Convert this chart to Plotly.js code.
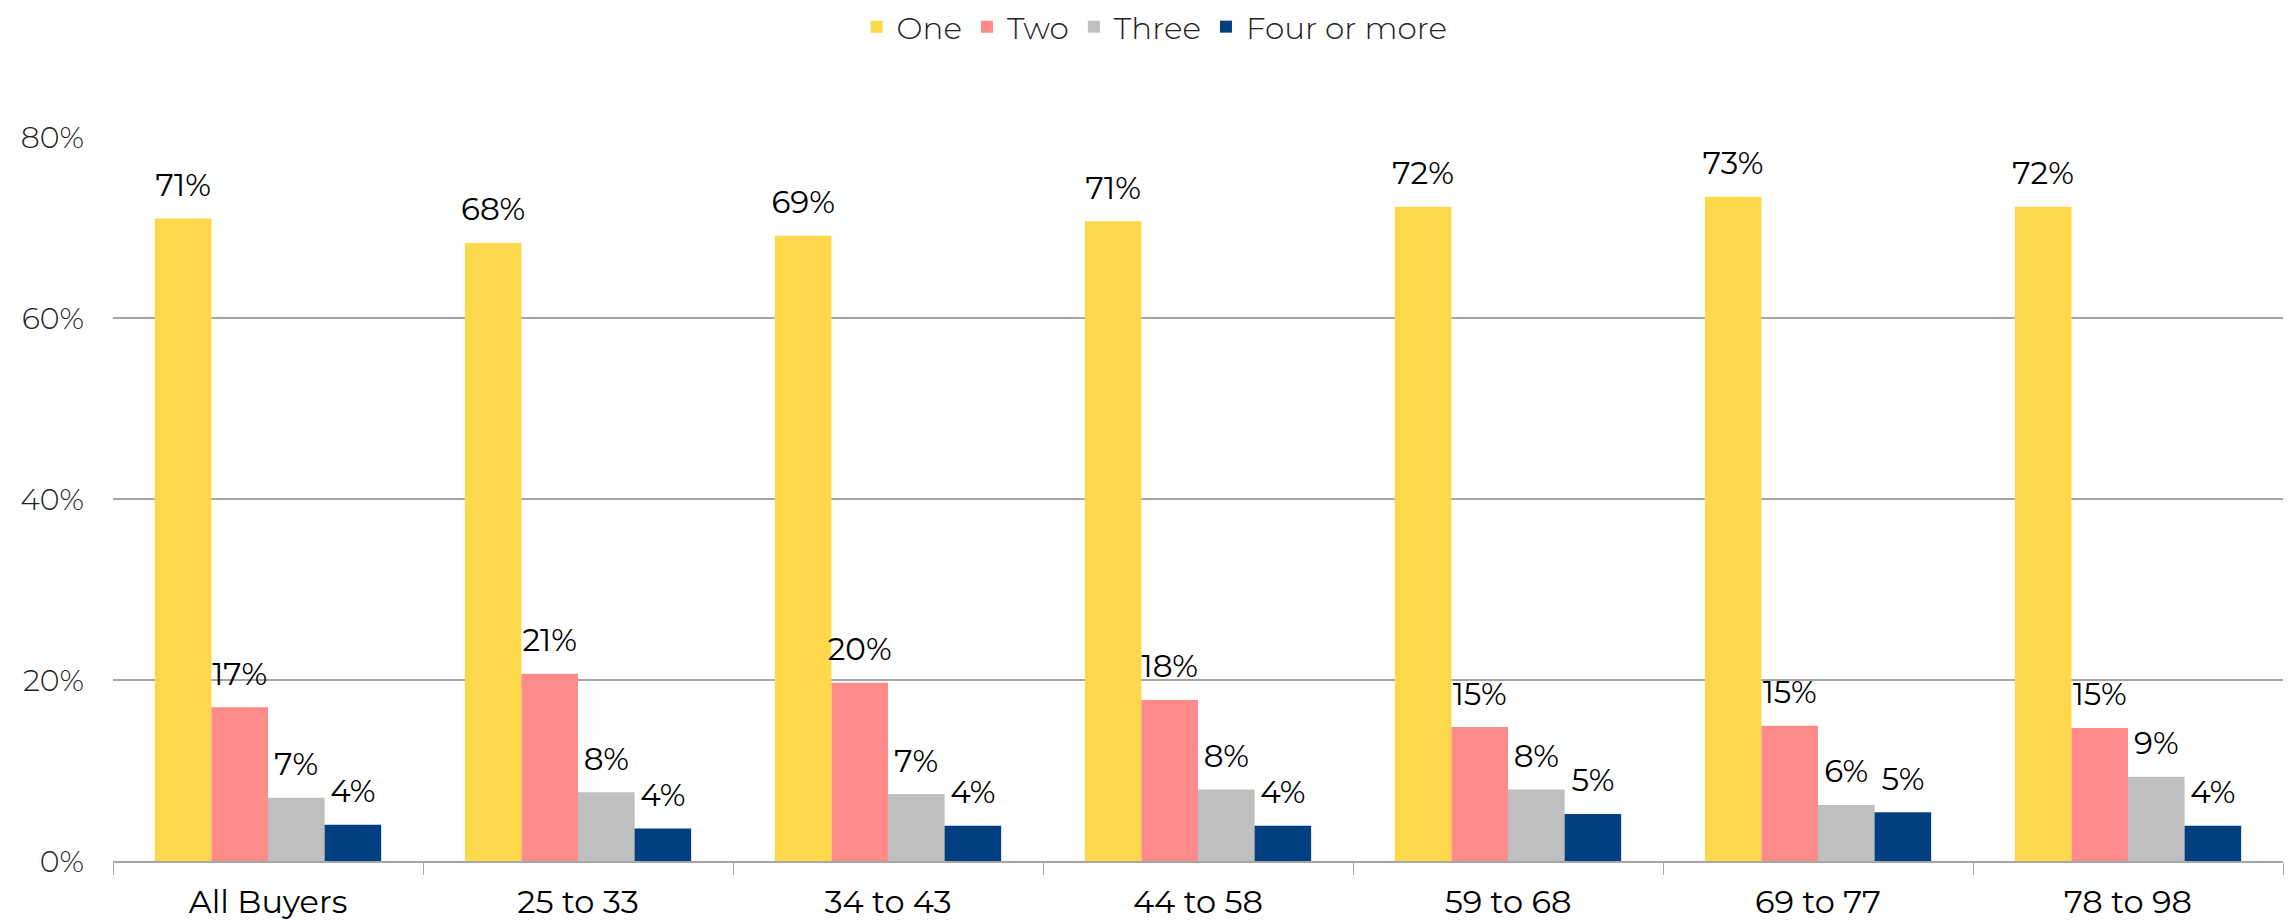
<!DOCTYPE html>
<html>
<head>
<meta charset="utf-8">
<script src="https://cdn.plot.ly/plotly-3.0.1.min.js"></script>
<style>
html,body{margin:0;padding:0;background:#fff;}
#chart{width:2293px;height:920px;}
</style>
</head>
<body>
<div id="chart"></div>
<script>
const categories = ["All Buyers", "25 to 33", "34 to 43", "44 to 58", "59 to 68", "69 to 77", "78 to 98"];
const seriesNames = ["One", "Two", "Three", "Four or more"];
const one   = [71.0, 68.3, 69.1, 70.7, 72.3, 73.4, 72.3];
const two   = [17.0, 20.7, 19.7, 17.8, 14.8, 14.95, 14.7];
const three = [7.0, 7.6, 7.4, 7.9, 7.9, 6.2, 9.3];
const four  = [4.0, 3.6, 3.9, 3.9, 5.2, 5.4, 3.9];
const yTicks = [0, 20, 40, 60, 80];
const yTickText = yTicks.map(v => v + "%");

const colors = ["#FDD84B", "#FF8A8A", "#BFBFBF", "#023F80"];
const seriesValues = [one, two, three, four];
const FONT = "Montserrat, 'Open Sans', sans-serif";

const barTraces = seriesValues.map((vals, i) => ({
  type: "bar",
  name: seriesNames[i],
  x: categories,
  y: vals,
  marker: {color: colors[i]},
  hoverinfo: "skip"
}));

const labelTraces = seriesValues.map((vals, i) => ({
  type: "scatter",
  mode: "markers+text",
  name: seriesNames[i] + " labels",
  showlegend: false,
  x: categories,
  y: vals,
  text: vals.map(v => Math.round(v) + "%"),
  textposition: "top center",
  textfont: {family: FONT, size: 31, color: "#000"},
  marker: {size: 22, opacity: 0, color: colors[i]},
  cliponaxis: false,
  hoverinfo: "skip"
}));

const layout = {
  width: 2293,
  height: 920,
  paper_bgcolor: "#fff",
  plot_bgcolor: "#fff",
  margin: {l: 113, r: 10, t: 137, b: 59},
  barmode: "group",
  bargap: 0.27,
  bargroupgap: 0,
  scattermode: "group",
  scattergap: 0.27,
  showlegend: true,
  legend: {
    orientation: "h",
    x: 0.48, xanchor: "center",
    yref: "container", y: 1, yanchor: "top",
    font: {family: FONT, size: 31, color: "#222", weight: 300},
    itemwidth: 30,
    traceorder: "normal"
  },
  xaxis: {
    type: "category",
    showgrid: false,
    showline: true,
    linecolor: "#A6A6A6",
    linewidth: 2,
    ticks: "outside",
    tickson: "boundaries",
    ticklen: 12,
    tickcolor: "#A6A6A6",
    tickwidth: 1,
    ticklabelstandoff: 12,
    tickfont: {family: FONT, size: 32, color: "#000"}
  },
  yaxis: {
    range: [0, 80],
    tickvals: yTicks,
    ticktext: yTickText,
    showgrid: true,
    gridcolor: "#A6A6A6",
    gridwidth: 2,
    zeroline: false,
    showline: false,
    ticks: "",
    ticklabelstandoff: 28,
    tickfont: {family: FONT, size: 30, color: "#222", weight: 300}
  }
};

Plotly.newPlot("chart", barTraces.concat(labelTraces), layout, {displayModeBar: false, staticPlot: true});
</script>
</body>
</html>
